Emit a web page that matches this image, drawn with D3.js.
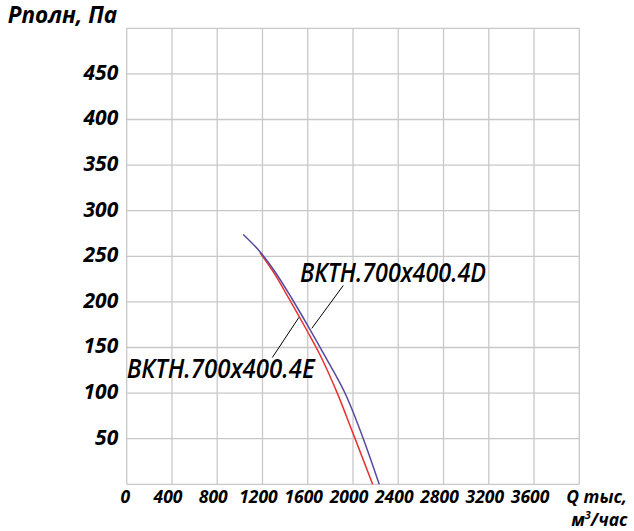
<!DOCTYPE html>
<html>
<head>
<meta charset="utf-8">
<script src="https://cdn.jsdelivr.net/npm/d3@7"></script>
<style>
  body { margin: 0; background: #fff; }
  text { font-family: "Open Sans", sans-serif; font-style: italic; fill: #000; }
  .tick-y { font-size: 21px; font-weight: 700; }
  .tick-x { font-size: 17.5px; font-weight: 700; }
  .axis-title { font-size: 22.5px; font-weight: 700; }
  .curve-label { font-size: 27px; font-weight: 600; }
</style>
</head>
<body>
<div id="chart"></div>
<script>
// Chart values
var xTicks = [0, 400, 800, 1200, 1600, 2000, 2400, 2800, 3200, 3600];
var yTicks = [50, 100, 150, 200, 250, 300, 350, 400, 450];

// ВКТН.700x400.4D (blue)
var flowD = [1030, 1178, 1300, 1458, 1600, 1750, 1944, 2091, 2232];
var pressD = [274, 255, 235, 204, 174, 141, 96, 50, 0];

// ВКТН.700x400.4E (red)
var flowE = [1178, 1300, 1428, 1600, 1700, 1861, 2003, 2174];
var pressE = [254, 232, 205, 167, 144, 100, 55, 0];

// labels with leader lines (data coordinates)
var labels = [
    { name: "ВКТН.700x400.4D", tx: 1532, ty: 222, lineFrom: [1914, 218], lineTo: [1636, 171], len: 186 },
    { name: "ВКТН.700x400.4E", tx: 0, ty: 116.5, lineFrom: [1287, 139], lineTo: [1522, 183], len: 188 }
];

// Define svg container dimensions
var svgWidth = 634;
var svgHeight = 531;

var margin = { top: 28.3, bottom: 46.7, left: 126.7, right: 54.7 };

var width = svgWidth - margin.left - margin.right;
var height = svgHeight - margin.top - margin.bottom;

var svg = d3.select("#chart")
    .append("svg")
    .attr("width", svgWidth)
    .attr("height", svgHeight);

var chartGroup = svg.append("g")
    .attr("transform", `translate(${margin.left}, ${margin.top})`);

// Scales
var xScale = d3.scaleLinear().domain([0, 4000]).range([0, width]);
var yScale = d3.scaleLinear().domain([0, 500]).range([height, 0]);

// Grid
var gridColor = "#c8c8c8";
chartGroup.append("g")
    .selectAll("line")
    .data(d3.range(0, 4001, 400))
    .enter()
    .append("line")
    .attr("x1", d => xScale(d))
    .attr("x2", d => xScale(d))
    .attr("y1", 0)
    .attr("y2", height)
    .attr("stroke", gridColor)
    .attr("stroke-width", 1.3);

chartGroup.append("g")
    .selectAll("line")
    .data(d3.range(0, 501, 50))
    .enter()
    .append("line")
    .attr("x1", 0)
    .attr("x2", width)
    .attr("y1", d => yScale(d))
    .attr("y2", d => yScale(d))
    .attr("stroke", gridColor)
    .attr("stroke-width", 1.3);

// Y tick labels
chartGroup.append("g")
    .selectAll("text")
    .data(yTicks)
    .enter()
    .append("text")
    .classed("tick-y", true)
    .attr("x", -8.5)
    .attr("y", d => yScale(d))
    .attr("dy", 6)
    .attr("text-anchor", "end")
    .text(d => d);

// X tick labels
chartGroup.append("g")
    .selectAll("text")
    .data(xTicks)
    .enter()
    .append("text")
    .classed("tick-x", true)
    .attr("x", d => xScale(d))
    .attr("dx", d => d === 0 ? -1.5 : -4)
    .attr("y", height + 19)
    .attr("text-anchor", "middle")
    .text(d => d);

// Axis titles
chartGroup.append("text")
    .classed("axis-title", true)
    .attr("x", -119)
    .attr("y", -5)
    .text("Рполн, Па");

var xTitle = chartGroup.append("text")
    .classed("tick-x", true)
    .attr("x", width - 13)
    .attr("y", height + 19)
    .attr("font-size", "18px");
xTitle.append("tspan").text("Q тыс,");
xTitle.append("tspan")
    .attr("x", width - 8)
    .attr("dy", 23)
    .text("м");
xTitle.append("tspan").attr("dy", -7).attr("font-size", "11px").text("3");
xTitle.append("tspan").attr("dy", 7).text("/час");

// Curves
var line = d3.line()
    .x(d => xScale(d[0]))
    .y(d => yScale(d[1]))
    .curve(d3.curveMonotoneX);

var dataD = flowD.map((q, i) => [q, pressD[i]]);
var dataE = flowE.map((q, i) => [q, pressE[i]]);

chartGroup.append("path")
    .datum(dataE)
    .attr("d", line)
    .attr("fill", "none")
    .attr("stroke", "#e8312f")
    .attr("stroke-width", 1.5);

chartGroup.append("path")
    .datum(dataD)
    .attr("d", line)
    .attr("fill", "none")
    .attr("stroke", "#554a9e")
    .attr("stroke-width", 1.5);

// Leader lines and labels
labels.forEach(function (lab) {
    chartGroup.append("line")
        .attr("x1", xScale(lab.lineFrom[0]))
        .attr("y1", yScale(lab.lineFrom[1]))
        .attr("x2", xScale(lab.lineTo[0]))
        .attr("y2", yScale(lab.lineTo[1]))
        .attr("stroke", "#000")
        .attr("stroke-width", 1);

    chartGroup.append("text")
        .classed("curve-label", true)
        .attr("x", xScale(lab.tx))
        .attr("y", yScale(lab.ty))
        .attr("textLength", lab.len)
        .attr("lengthAdjust", "spacingAndGlyphs")
        .text(lab.name);
});
</script>
</body>
</html>
